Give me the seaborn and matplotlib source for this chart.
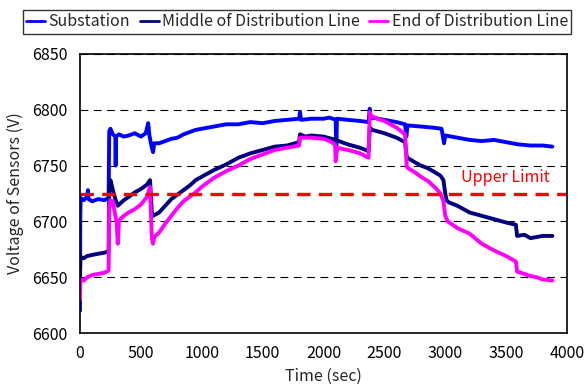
import matplotlib
matplotlib.use("Agg")
import matplotlib.pyplot as plt
import seaborn as sns
import pandas as pd

# values
sub_t = [0, 2, 5, 30, 60, 65, 70, 100, 150, 200, 235, 240, 250, 270, 290, 293, 296,
         320, 360, 400, 450, 500, 540, 560, 570, 590, 600, 610, 650, 700, 750, 800,
         850, 900, 950, 1000, 1100, 1200, 1300, 1400, 1500, 1600, 1700, 1800, 1807,
         1815, 1900, 2000, 2050, 2100, 2105, 2110, 2200, 2300, 2370, 2380, 2385, 2400,
         2500, 2600, 2670, 2680, 2690, 2800, 2900, 2970, 2990, 3000, 3050, 3100, 3200,
         3300, 3400, 3500, 3600, 3700, 3800, 3880]
sub_v = [6620, 6700, 6721, 6719, 6722, 6728, 6720, 6718, 6720, 6719, 6721, 6781, 6783,
         6778, 6776, 6750, 6776, 6778, 6776, 6777, 6779, 6776, 6779, 6788, 6777, 6766,
         6762, 6770, 6770, 6772, 6774, 6775, 6778, 6780, 6782, 6783, 6785, 6787, 6787,
         6789, 6788, 6790, 6791, 6792, 6798, 6791, 6792, 6792, 6793, 6791, 6761, 6792,
         6791, 6790, 6789, 6801, 6792, 6793, 6791, 6789, 6787, 6776, 6786, 6785, 6784,
         6783, 6770, 6777, 6776, 6775, 6773, 6772, 6773, 6771, 6769, 6768, 6768, 6767]

mid_t = [0, 3, 8, 30, 60, 100, 150, 200, 235, 240, 250, 270, 290, 310, 330, 360, 400,
         450, 500, 550, 575, 590, 600, 650, 700, 750, 800, 850, 900, 950, 1000, 1100,
         1200, 1300, 1400, 1500, 1600, 1700, 1800, 1807, 1850, 1900, 2000, 2100, 2200,
         2300, 2370, 2380, 2400, 2500, 2600, 2670, 2683, 2690, 2750, 2800, 2850, 2900,
         2960, 2985, 3000, 3010, 3030, 3100, 3200, 3300, 3400, 3500, 3580, 3590, 3650,
         3700, 3750, 3800, 3880]
mid_v = [6652, 6665, 6668, 6667, 6669, 6670, 6671, 6672, 6673, 6730, 6737, 6728, 6720,
         6714, 6716, 6719, 6722, 6726, 6729, 6733, 6737, 6708, 6705, 6708, 6714, 6720,
         6724, 6728, 6732, 6737, 6740, 6746, 6751, 6757, 6761, 6764, 6767, 6768, 6771,
         6778, 6776, 6777, 6776, 6773, 6769, 6766, 6763, 6784, 6782, 6779, 6775, 6771,
         6758, 6757, 6753, 6750, 6748, 6745, 6741, 6737, 6725, 6719, 6717, 6714, 6708,
         6705, 6702, 6699, 6697, 6687, 6688, 6685, 6686, 6687, 6687]

end_t = [0, 3, 8, 30, 60, 100, 150, 200, 235, 240, 250, 270, 290, 300, 310, 320, 330,
         360, 400, 450, 500, 550, 575, 590, 600, 610, 650, 700, 750, 800, 850, 900, 950,
         1000, 1100, 1200, 1300, 1400, 1500, 1600, 1700, 1800, 1807, 1850, 1900, 2000,
         2050, 2095, 2100, 2110, 2200, 2300, 2370, 2380, 2390, 2420, 2500, 2600, 2670,
         2683, 2690, 2750, 2800, 2860, 2920, 2960, 2985, 3000, 3020, 3100, 3200, 3300,
         3400, 3500, 3580, 3590, 3650, 3700, 3750, 3800, 3880]
end_v = [6630, 6645, 6648, 6647, 6650, 6652, 6653, 6654, 6656, 6712, 6719, 6718, 6705,
         6700, 6680, 6700, 6702, 6705, 6708, 6711, 6715, 6722, 6731, 6685, 6680, 6686,
         6690, 6698, 6705, 6712, 6718, 6722, 6726, 6731, 6739, 6745, 6750, 6756, 6760,
         6764, 6766, 6768, 6775, 6775, 6775, 6774, 6772, 6769, 6754, 6766, 6764, 6761,
         6757, 6798, 6795, 6793, 6790, 6784, 6778, 6750, 6748, 6744, 6740, 6736, 6730,
         6725, 6718, 6705, 6700, 6694, 6689, 6680, 6674, 6669, 6664, 6655, 6653, 6651,
         6650, 6648, 6647]

upper_limit = 6725
x_ticks = [0, 500, 1000, 1500, 2000, 2500, 3000, 3500, 4000]
y_ticks = [6600, 6650, 6700, 6750, 6800, 6850]

sns.set_style("white")
plt.rcParams['font.family'] = ['Noto Sans CJK JP', 'DejaVu Sans']
fs = 11.5

fig = plt.figure(figsize=(5.87, 3.88), dpi=100)
ax = fig.add_axes([80 / 587, 55 / 388, 487 / 587, 279 / 388])

series = [("Substation", sub_t, sub_v, "#0000FF"),
          ("Middle of Distribution Line", mid_t, mid_v, "#000080"),
          ("End of Distribution Line", end_t, end_v, "#FF00FF")]
for name, t, v, c in series:
    df = pd.DataFrame({"t": t, "v": v})
    sns.lineplot(data=df, x="t", y="v", ax=ax, color=c, linewidth=2.8,
                 estimator=None, sort=False, label=name)

ax.axhline(upper_limit, color="#FF0000", linewidth=2.4, dashes=(4, 2.5))
ax.text(3490, upper_limit + 14, "Upper Limit", color="#FF0000", ha="center",
        va="center", fontsize=fs)

ax.set_xlim(0, 4000)
ax.set_ylim(6600, 6850)
ax.set_xticks(x_ticks)
ax.set_yticks(y_ticks)
ax.yaxis.grid(True, color="black", linestyle=(0, (7, 5)), linewidth=0.8)
ax.xaxis.grid(False)
ax.tick_params(direction="in", length=5, width=1, colors="black", labelsize=fs)
ax.tick_params(axis="x", pad=9)
ax.tick_params(axis="y", pad=9)
for s in ax.spines.values():
    s.set_color("black")
    s.set_linewidth(1.2)

ax.set_xlabel("Time (sec)", fontsize=fs, labelpad=4)
ax.set_ylabel("Voltage of Sensors (V)", fontsize=fs, labelpad=6)

handles, labels = ax.get_legend_handles_labels()
ax.legend_.remove()
leg = fig.legend(handles, labels, loc="center", bbox_to_anchor=(297 / 587, 1 - 22 / 388),
                 ncol=3, frameon=True, fancybox=False, edgecolor="black",
                 handlelength=1.2, handletextpad=0.2, columnspacing=0.6,
                 borderpad=0.2, fontsize=fs)
leg.get_frame().set_linewidth(1.0)
for h in leg.get_lines():
    h.set_linewidth(2)

fig.savefig("out.png", dpi=100)
